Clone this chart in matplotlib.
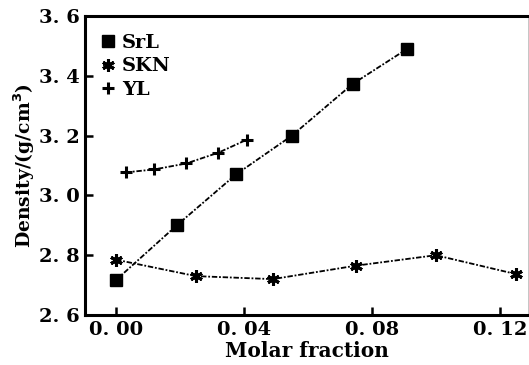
import matplotlib.pyplot as plt

# data
srl_x = [0.000, 0.019, 0.0375, 0.055, 0.074, 0.091]
srl_y = [2.717, 2.900, 3.070, 3.200, 3.373, 3.490]

skn_x = [0.000, 0.025, 0.049, 0.075, 0.100, 0.125]
skn_y = [2.785, 2.730, 2.720, 2.765, 2.800, 2.737]

yl_x = [0.003, 0.012, 0.022, 0.032, 0.041]
yl_y = [3.077, 3.087, 3.107, 3.143, 3.187]

x_ticks = [0.00, 0.04, 0.08, 0.12]
x_labels = ['0. 00', '0. 04', '0. 08', '0. 12']
y_ticks = [2.6, 2.8, 3.0, 3.2, 3.4, 3.6]
y_labels = ['2. 6', '2. 8', '3. 0', '3. 2', '3. 4', '3. 6']

plt.rcParams['font.family'] = ['DejaVu Serif']
plt.rcParams['font.weight'] = 'bold'

fig = plt.figure(figsize=(5.29, 3.65), dpi=100)
ax = fig.add_axes([0.1607, 0.137, 0.8373, 0.819])

ls = (0, (3, 1, 1, 1))
ax.plot(srl_x, srl_y, color='black', lw=1.3, ls=ls, marker='s', ms=8.5, label='SrL')
ax.plot(skn_x, skn_y, color='black', lw=1.3, ls=ls, marker=(6, 2, 0), ms=9, mew=2.2, label='SKN')
ax.plot(yl_x, yl_y, color='black', lw=1.3, ls=ls, marker='+', ms=8, mew=2.2, label='YL')

ax.set_xlim(-0.0097, 0.1288)
ax.set_ylim(2.6, 3.6)
ax.set_xticks(x_ticks)
ax.set_xticklabels(x_labels)
ax.set_yticks(y_ticks)
ax.set_yticklabels(y_labels)
ax.tick_params(direction='in', length=6, width=1.8, labelsize=14, pad=4)

for side in ['left', 'bottom', 'top']:
    ax.spines[side].set_linewidth(2.2)
ax.spines['right'].set_linewidth(0.6)
ax.spines['right'].set_color('#bbbbbb')

ax.set_xlabel('Molar fraction', fontsize=14.5, fontweight='bold', labelpad=2)
ax.set_ylabel('Density/(g/cm$^3$)', fontsize=13.5, fontweight='bold', labelpad=1)

ax.legend(loc='upper left', frameon=False, handlelength=0.6,
          handletextpad=0.4, labelspacing=0.3, borderaxespad=0.5,
          prop={'weight': 'bold', 'size': 14})

fig.savefig('out.png', dpi=100)
